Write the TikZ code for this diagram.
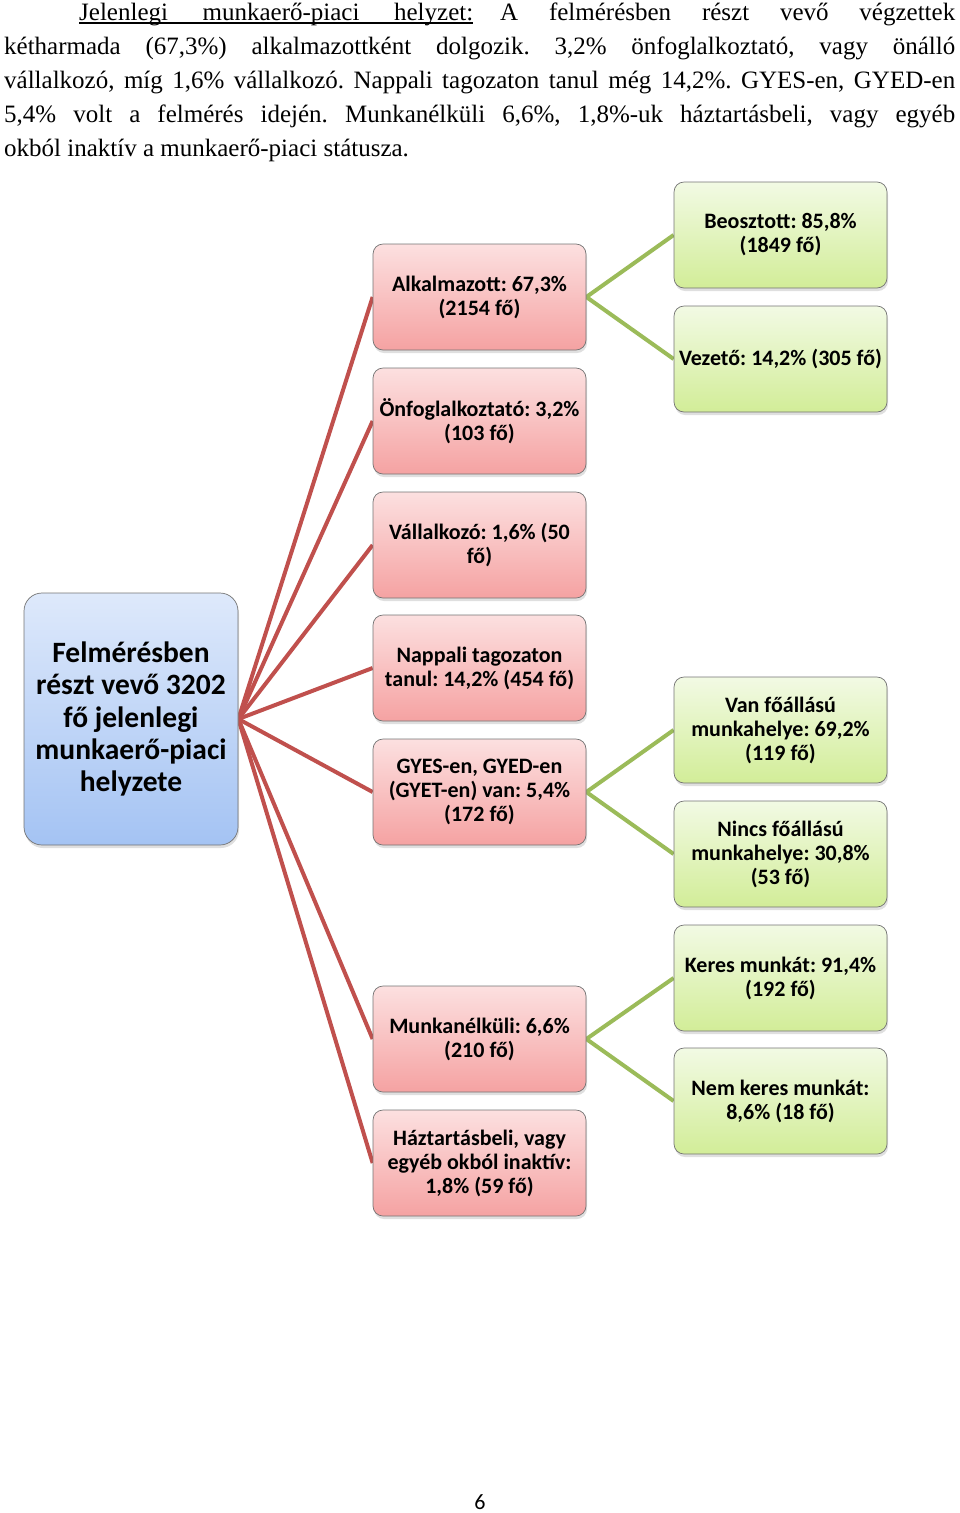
\documentclass[tikz,border=0pt]{standalone}
\usepackage{fontspec}
\setmainfont{Liberation Serif}
\newfontfamily\boxfont{Carlito}
\usetikzlibrary{shadows,backgrounds}
\frenchspacing
\definecolor{redline}{HTML}{C0504D}
\definecolor{greenline}{HTML}{9BBB59}
\definecolor{pinktop}{RGB}{252,224,224}
\definecolor{pinkbot}{RGB}{245,162,162}
\definecolor{greentop}{RGB}{242,250,228}
\definecolor{greenbot}{RGB}{210,237,152}
\definecolor{bluetop}{RGB}{222,233,251}
\definecolor{bluebot}{RGB}{164,195,243}
\tikzset{
  basebox/.style={rounded corners=10pt, draw=black!55, line width=0.7pt,
    minimum width=213pt, minimum height=106pt, align=center, inner sep=2pt,
    font=\frenchspacing\boxfont\bfseries\fontsize{22}{24}\selectfont,
    drop shadow={shadow xshift=1pt, shadow yshift=-3pt, opacity=0.25}},
  pinkbox/.style={basebox, top color=pinktop, bottom color=pinkbot},
  greenbox/.style={basebox, top color=greentop, bottom color=greenbot},
  rootbox/.style={basebox, top color=bluetop, bottom color=bluebot,
    rounded corners=18pt, minimum width=214pt, minimum height=252pt,
    font=\frenchspacing\boxfont\bfseries\fontsize{29.5}{32.3}\selectfont},
  redconn/.style={draw=redline, line width=4pt},
  greenconn/.style={draw=greenline, line width=4pt},
  bodyline/.style={anchor=base west, inner sep=0pt, font=\frenchspacing\fontsize{25}{34}\selectfont}
}
\begin{document}
\begin{tikzpicture}[x=1pt,y=-1pt]
\useasboundingbox (0,0) rectangle (960,1513);
% paragraph
\node[bodyline] (l1a) at (79,20) {\hbox to 394pt{Jelenlegi munkaerő-piaci helyzet:}};
\draw[line width=1.2pt] ([yshift=-3pt]l1a.base west) -- ([yshift=-3pt]l1a.base east);
\node[bodyline] (l1b) at (500,20) {\hbox to 455pt{A felmérésben részt vevő végzettek}};
\node[bodyline] (l2) at (4,54) {\hbox to 951pt{kétharmada (67,3\%) alkalmazottként dolgozik. 3,2\% önfoglalkoztató, vagy önálló}};
\node[bodyline] (l3) at (4,88) {\hbox to 951pt{vállalkozó, míg 1,6\% vállalkozó. Nappali tagozaton tanul még 14,2\%. GYES-en, GYED-en}};
\node[bodyline] (l4) at (4,122) {\hbox to 951pt{5,4\% volt a felmérés idején. Munkanélküli 6,6\%, 1,8\%-uk háztartásbeli, vagy egyéb}};
\node[bodyline] (l5) at (4,156) {okból inaktív a munkaerő-piaci státusza.};
% boxes
\node[rootbox] (root) at (131,719) {Felmérésben\\részt vevő 3202\\fő jelenlegi\\munkaerő-piaci\\helyzete};
\node[pinkbox] (alk) at (479.5,297) {Alkalmazott: 67,3\%\\(2154 fő)};
\node[pinkbox] (onf) at (479.5,421) {Önfoglalkoztató: 3,2\%\\(103 fő)};
\node[pinkbox] (val) at (479.5,545) {Vállalkozó: 1,6\% (50\\fő)};
\node[pinkbox] (nap) at (479.5,668) {Nappali tagozaton\\tanul: 14,2\% (454 fő)};
\node[pinkbox] (gyes) at (479.5,792) {GYES-en, GYED-en\\(GYET-en) van: 5,4\%\\(172 fő)};
\node[pinkbox] (mun) at (479.5,1039) {Munkanélküli: 6,6\%\\(210 fő)};
\node[pinkbox] (haz) at (479.5,1163) {Háztartásbeli, vagy\\egyéb okból inaktív:\\1,8\% (59 fő)};
\node[greenbox] (beo) at (780.5,235) {Beosztott: 85,8\%\\(1849 fő)};
\node[greenbox] (vez) at (780.5,359) {Vezető: 14,2\% (305 fő)};
\node[greenbox] (van) at (780.5,730) {Van főállású\\munkahelye: 69,2\%\\(119 fő)};
\node[greenbox] (nincs) at (780.5,854) {Nincs főállású\\munkahelye: 30,8\%\\(53 fő)};
\node[greenbox] (keres) at (780.5,978) {Keres munkát: 91,4\%\\(192 fő)};
\node[greenbox] (nem) at (780.5,1101) {Nem keres munkát:\\8,6\% (18 fő)};
% page number
\node[inner sep=0pt, font=\boxfont\fontsize{22}{26}\selectfont] (page) at (480,1502) {6};
% connectors
\begin{scope}[on background layer]
\foreach \t in {alk,onf,val,nap,gyes,mun,haz}
  \draw[redconn] (root.east) -- (\t.west);
\draw[greenconn] (alk.east) -- (beo.west);
\draw[greenconn] (alk.east) -- (vez.west);
\draw[greenconn] (gyes.east) -- (van.west);
\draw[greenconn] (gyes.east) -- (nincs.west);
\draw[greenconn] (mun.east) -- (keres.west);
\draw[greenconn] (mun.east) -- (nem.west);
\end{scope}
\end{tikzpicture}
\end{document}
